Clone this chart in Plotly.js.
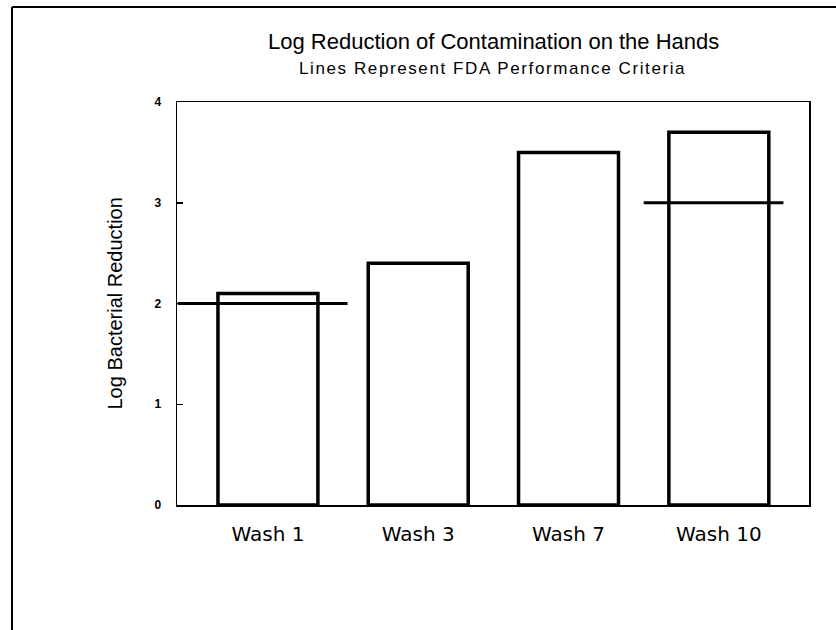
<!DOCTYPE html>
<html>
<head>
<meta charset="utf-8">
<script src="https://cdn.plot.ly/plotly-3.0.1.min.js"></script>
<style>
html,body{margin:0;padding:0;background:#fff;}
#chart{width:836px;height:630px;}
.annotation[data-index="1"] text{letter-spacing:1.6px;}
</style>
</head>
<body>
<div id="chart"></div>
<script>
// Data
const categories = ["Wash 1", "Wash 3", "Wash 7", "Wash 10"];
const logReduction = [2.1, 2.4, 3.5, 3.7];
// FDA performance criteria lines (criterion value, category-span start/end)
const fdaCriteria = [2, 3];
const fdaStart = [-0.6, 2.5];
const fdaEnd = [0.53, 3.43];
const yTicks = [0, 1, 2, 3, 4];

const idx = categories.map((c, i) => i);

const traces = [{
  type: 'bar',
  x: idx,
  y: logReduction,
  width: 0.665,
  marker: {color: '#ffffff', line: {color: '#000000', width: 3.5}},
  hoverinfo: 'x+y',
  showlegend: false
}];
fdaCriteria.forEach((v, i) => {
  traces.push({
    type: 'scatter', mode: 'lines',
    x: [fdaStart[i], fdaEnd[i]], y: [v, v],
    line: {color: '#000000', width: 3},
    showlegend: false, hoverinfo: 'y'
  });
});

const layout = {
  width: 836, height: 630,
  margin: {l: 177, r: 27, t: 102, b: 125},
  paper_bgcolor: '#ffffff', plot_bgcolor: '#ffffff',
  showlegend: false,
  xaxis: {
    range: [-0.605, 3.6],
    tickvals: idx, ticktext: categories,
    showgrid: false, zeroline: false,
    showline: true, mirror: true, linecolor: '#000', linewidth: 1.5,
    ticks: '', ticklabelstandoff: 10,
    tickfont: {family: 'DejaVu Sans, sans-serif', size: 20, color: '#000'}
  },
  yaxis: {
    range: [0, 4], tickvals: yTicks,
    showgrid: false, zeroline: false,
    showline: true, mirror: true, linecolor: '#000', linewidth: 1.5,
    ticks: 'inside', ticklen: 6, tickcolor: '#000', tickwidth: 1.5,
    ticklabelstandoff: 12,
    tickfont: {family: 'Liberation Sans, Arial, sans-serif', size: 12, color: '#000', weight: 'bold'}
  },
  annotations: [
    {text: 'Log Reduction of Contamination on the Hands', xref: 'paper', yref: 'paper',
     x: 0.5, y: (505 - 42) / 403, xanchor: 'center', yanchor: 'middle', showarrow: false,
     font: {family: 'Liberation Sans Narrow, Arial Narrow, Liberation Sans, sans-serif', size: 22, color: '#000'}},
    {text: 'Lines Represent FDA Performance Criteria', xref: 'paper', yref: 'paper',
     x: 0.5, y: (505 - 68) / 403, xanchor: 'center', yanchor: 'middle', showarrow: false,
     font: {family: 'Liberation Sans Narrow, Arial Narrow, Liberation Sans, sans-serif', size: 17, color: '#000'}},
    {text: 'Log Bacterial Reduction', xref: 'paper', yref: 'paper',
     x: (114 - 177) / 632, y: 0.5, xanchor: 'center', yanchor: 'middle', textangle: -90, showarrow: false,
     font: {family: 'Liberation Sans, Arial, sans-serif', size: 20, color: '#000'}}
  ],
  shapes: [
    {type: 'line', xref: 'paper', yref: 'paper', x0: (12 - 177) / 632, x1: (836 - 177) / 632,
     y0: (505 - 7) / 403, y1: (505 - 7) / 403, line: {color: '#000', width: 2}},
    {type: 'line', xref: 'paper', yref: 'paper', x0: (12 - 177) / 632, x1: (12 - 177) / 632,
     y0: (505 - 7) / 403, y1: (505 - 630) / 403, line: {color: '#000', width: 2}}
  ]
};

Plotly.newPlot('chart', traces, layout, {staticPlot: true, displayModeBar: false});
</script>
</body>
</html>
